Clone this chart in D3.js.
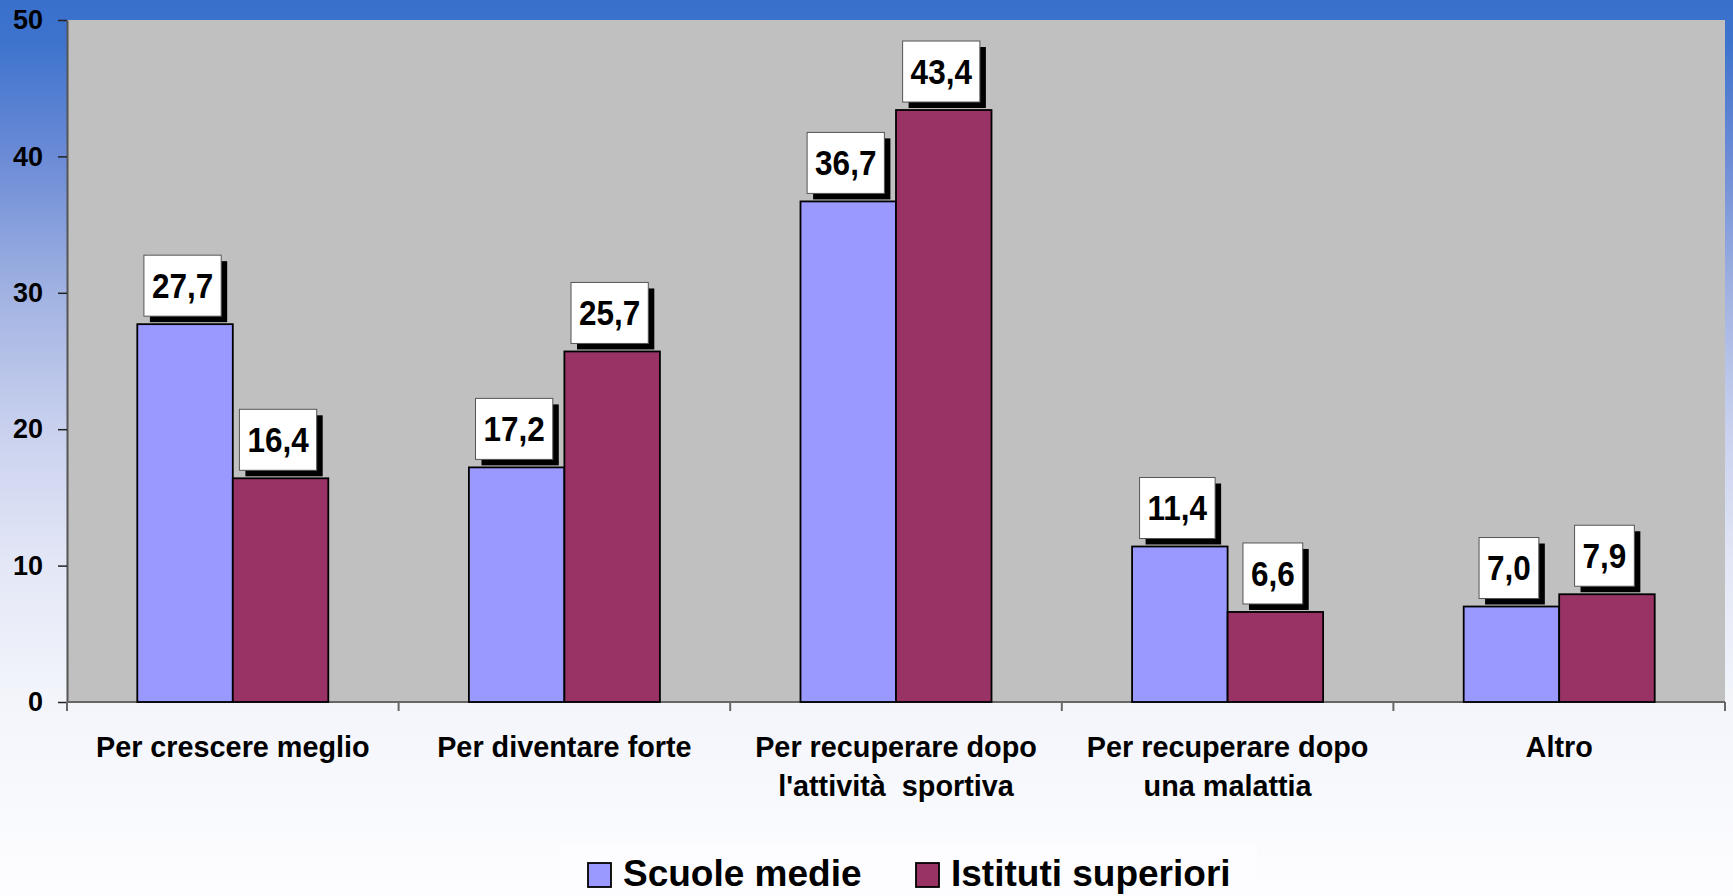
<!DOCTYPE html>
<html>
<head>
<meta charset="utf-8">
<script src="https://cdn.jsdelivr.net/npm/d3@7"></script>
<style>
  html, body { margin: 0; padding: 0; overflow: hidden; }
  body { width: 1733px; height: 896px; }
  svg { display: block; }
  text { font-family: "Liberation Sans", Arial, sans-serif; font-weight: bold; fill: #000; }
  .cat { white-space: pre; }
</style>
</head>
<body>
<svg id="chart" width="1733" height="896"></svg>
<script>
// Categories (two-line labels where the axis wraps them)
const categories = [
  "Per crescere meglio",
  "Per diventare forte",
  "Per recuperare dopo l'attività sportiva",
  "Per recuperare dopo una malattia",
  "Altro"
];
const categoryLines = [
  ["Per crescere meglio"],
  ["Per diventare forte"],
  ["Per recuperare dopo", "l'attività  sportiva"],
  ["Per recuperare dopo", "una malattia"],
  ["Altro"]
];
const seriesNames = ["Scuole medie", "Istituti superiori"];
const scuoleMedie = [27.7, 17.2, 36.7, 11.4, 7.0];
const istitutiSuperiori = [16.4, 25.7, 43.4, 6.6, 7.9];
const yTicks = [0, 10, 20, 30, 40, 50];

const seriesColors = ["#9999FF", "#993366"];
const seriesValues = [scuoleMedie, istitutiSuperiori];

const W = 1733, H = 896;
const plot = { left: 67, right: 1725, top: 20, bottom: 702 };

const svg = d3.select("#chart");

// Page background: blue at the top fading to white
const defs = svg.append("defs");
const grad = defs.append("linearGradient")
  .attr("id", "bg").attr("x1", 0).attr("y1", 0).attr("x2", 0).attr("y2", 1);
[[0, "#3870cc"], [0.05, "#3f74cd"], [0.17, "#6a8ad6"], [0.33, "#a2b3e2"],
 [0.48, "#c9d1ee"], [0.63, "#e3e7f6"], [0.78, "#f3f5fb"], [1, "#fdfdff"]]
  .forEach(([o, c]) => grad.append("stop").attr("offset", o).attr("stop-color", c));
svg.append("rect").attr("width", W).attr("height", H).attr("fill", "url(#bg)");

// Plot area
svg.append("rect")
  .attr("x", plot.left).attr("y", plot.top)
  .attr("width", plot.right - plot.left).attr("height", plot.bottom - plot.top)
  .attr("fill", "#C0C0C0");

const x = d3.scaleBand().domain(categories).range([plot.left, plot.right]).padding(0);
const xs = d3.scaleBand().domain(seriesNames).range([0, x.bandwidth()])
  .paddingInner(0).paddingOuter(0.736);
const y = d3.scaleLinear().domain([0, 50]).range([plot.bottom, plot.top]);

// Y axis
const yAxis = svg.append("g")
  .attr("transform", `translate(${plot.left},0)`)
  .call(d3.axisLeft(y).tickValues(yTicks).tickSize(9).tickSizeOuter(0).tickPadding(15)
    .tickFormat(d3.format("d")));
yAxis.select(".domain").attr("stroke", "#555").attr("stroke-width", 2);
yAxis.selectAll(".tick line").attr("stroke", "#222").attr("stroke-width", 1.5);
yAxis.selectAll(".tick text")
  .style("font-family", "'Liberation Sans', Arial, sans-serif")
  .style("font-weight", "bold").style("font-size", "27px").attr("fill", "#000");

// X axis line with category boundary ticks
const xAxis = svg.append("g");
xAxis.append("line")
  .attr("x1", plot.left).attr("x2", plot.right)
  .attr("y1", plot.bottom).attr("y2", plot.bottom)
  .attr("stroke", "#666").attr("stroke-width", 2);
const bounds = categories.map(c => x(c)).concat([x(categories[categories.length - 1]) + x.bandwidth()]);
xAxis.selectAll("line.tk").data(bounds).join("line")
  .attr("class", "tk")
  .attr("x1", d => d).attr("x2", d => d)
  .attr("y1", plot.bottom).attr("y2", plot.bottom + 9)
  .attr("stroke", "#666").attr("stroke-width", 2);

// Category labels
categories.forEach((c, i) => {
  const cx = x(c) + x.bandwidth() / 2;
  const t = svg.append("text")
    .attr("class", "cat")
    .attr("text-anchor", "middle")
    .style("font-size", "28.8px");
  categoryLines[i].forEach((line, j) => {
    t.append("tspan").attr("x", cx).attr("y", 757 + j * 38.5).text(line);
  });
});

// Bars
const flat = [];
categories.forEach((c, i) => {
  seriesNames.forEach((s, k) => {
    flat.push({ cat: c, series: s, value: seriesValues[k][i], color: seriesColors[k] });
  });
});

svg.append("g").selectAll("rect").data(flat).join("rect")
  .attr("x", d => x(d.cat) + xs(d.series))
  .attr("y", d => y(d.value))
  .attr("width", xs.bandwidth())
  .attr("height", d => y(0) - y(d.value))
  .attr("fill", d => d.color)
  .attr("stroke", "#000").attr("stroke-width", 1.8);

// Value labels in white boxes with a drop shadow
const fmt = v => d3.format(".1f")(v).replace(".", ",");
const labelG = svg.append("g");
flat.forEach(d => {
  const cx = x(d.cat) + xs(d.series) + xs.bandwidth() / 2 - 2.5;
  const boxH = 61;
  const bottom = y(d.value) - 8;
  const g = labelG.append("g");
  const shadow = g.append("rect");
  const box = g.append("rect");
  const t = g.append("text")
    .attr("text-anchor", "middle")
    .style("font-size", "31.5px")
    .attr("transform", `translate(${cx},${bottom - boxH / 2}) scale(1,1.13)`)
    .attr("y", 11)
    .text(fmt(d.value));
  const tw = t.node().getComputedTextLength();
  const bw = tw + 16;
  shadow.attr("x", cx - bw / 2 + 6).attr("y", bottom - boxH + 6)
    .attr("width", bw).attr("height", boxH).attr("fill", "#000");
  box.attr("x", cx - bw / 2).attr("y", bottom - boxH)
    .attr("width", bw).attr("height", boxH)
    .attr("fill", "#fff").attr("stroke", "#555").attr("stroke-width", 1);
});

// Legend
const legend = svg.append("g");
legend.append("rect")
  .attr("x", 560).attr("y", 843).attr("width", 697).attr("height", 53)
  .attr("fill", "#fdfdff");
const legendX = [588, 916];
seriesNames.forEach((s, k) => {
  legend.append("rect")
    .attr("x", legendX[k]).attr("y", 863).attr("width", 23).attr("height", 24)
    .attr("fill", seriesColors[k]).attr("stroke", "#000").attr("stroke-width", 1.8);
  legend.append("text")
    .attr("x", legendX[k] + 35).attr("y", 886)
    .style("font-size", "37px")
    .text(s);
});
</script>
</body>
</html>
